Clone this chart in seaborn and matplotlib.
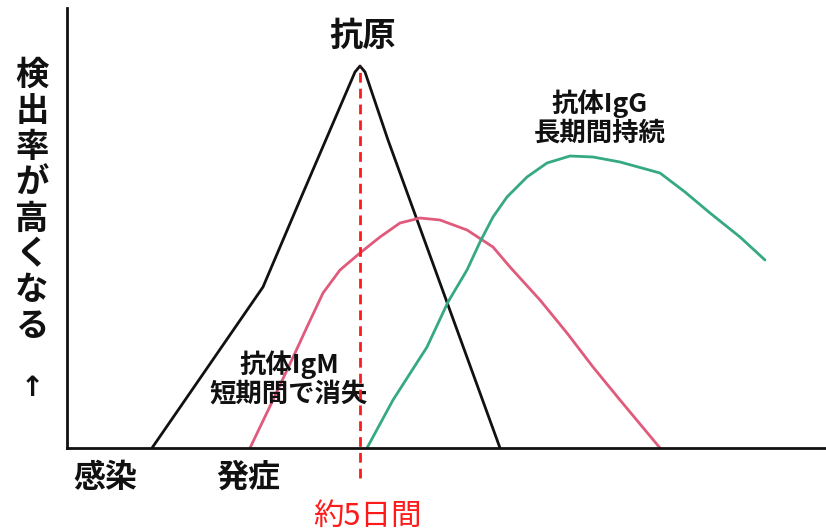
import matplotlib
matplotlib.use("Agg")
import matplotlib.pyplot as plt
import seaborn as sns
import pandas as pd

# data (x: time, y: detection rate, arbitrary units)
antigen_x = [85, 196, 233, 288, 293, 298, 321, 433]
antigen_y = [0, 161, 248, 376, 382, 376, 308, 0]

igm_x = [183, 206, 228, 240, 256, 273, 293, 313, 333, 353, 373, 400, 426, 443, 473, 500, 526, 553, 593]
igm_y = [0, 48, 95, 121, 155, 178, 195, 211, 225, 230, 228, 218, 201, 181, 148, 115, 81, 48, 0]

igg_x = [300, 326, 360, 381, 400, 413, 426, 440, 460, 480, 503, 526, 553, 593, 618, 643, 673, 698]
igg_y = [0, 48, 101, 146, 178, 206, 231, 251, 271, 285, 292, 291, 286, 275, 256, 235, 211, 188]

onset_x = 293  # red dashed line (about 5 days)

ylabel_chars = list('検出率が高くなる')

sns.set_theme(style="white")
plt.rcParams['font.family'] = ['Noto Sans CJK JP', 'DejaVu Sans']

fig = plt.figure(figsize=(8.26, 5.30), dpi=100)
ax = fig.add_axes([67 / 826, 82 / 530, 759 / 826, 440 / 530])

df = pd.concat([
    pd.DataFrame({'x': antigen_x, 'y': antigen_y, 's': '抗原'}),
    pd.DataFrame({'x': igm_x, 'y': igm_y, 's': 'IgM'}),
    pd.DataFrame({'x': igg_x, 'y': igg_y, 's': 'IgG'}),
])
sns.lineplot(data=df, x='x', y='y', hue='s', sort=False, estimator=None,
             palette={'抗原': '#111111', 'IgM': '#e05a7c', 'IgG': '#35a884'},
             linewidth=2.0, legend=False, ax=ax)

ax.plot([onset_x, onset_x], [-30, 382], color='#ff1a1a', linestyle=(0, (3.5, 2.2)),
        linewidth=2.0, clip_on=False, zorder=5)

ax.set_xlim(0, 759)
ax.set_ylim(0, 440)
ax.set_xticks([])
ax.set_yticks([])
ax.set_xlabel('')
ax.set_ylabel('')
for side in ['top', 'right']:
    ax.spines[side].set_visible(False)
for side in ['left', 'bottom']:
    ax.spines[side].set_color('#111111')
    ax.spines[side].set_linewidth(2.0)

# labels
ax.text(296, 412, '抗原', ha='center', va='center', fontsize=24, fontweight='bold', color='#111111')
ax.text(533, 330, '抗体IgG\n長期間持続', ha='center', va='center', fontsize=19,
        fontweight='bold', linespacing=1.05, color='#111111')
ax.text(222, 69, '抗体IgM\n短期間で消失', ha='center', va='center', fontsize=19,
        fontweight='bold', linespacing=1.05, color='#111111')
ax.text(38, -30, '感染', ha='center', va='center', fontsize=23, fontweight='bold', color='#111111')
ax.text(181, -30, '発症', ha='center', va='center', fontsize=23, fontweight='bold', color='#111111')
ax.text(300, -68, '約5日間', ha='center', va='center', fontsize=22, color='#ff1a1a')

# vertical y label, one character per line
for i, ch in enumerate(ylabel_chars):
    fig.text(32 / 826, 1 - (75 + 36 * i) / 530, ch, ha='center', va='center',
             fontsize=24, fontweight='bold', color='#111111')
fig.text(32 / 826, 1 - 388 / 530, '↑', ha='center', va='center', fontsize=20,
         fontweight='bold', color='#111111', family=['DejaVu Sans'])

fig.savefig('out.png', dpi=100)
